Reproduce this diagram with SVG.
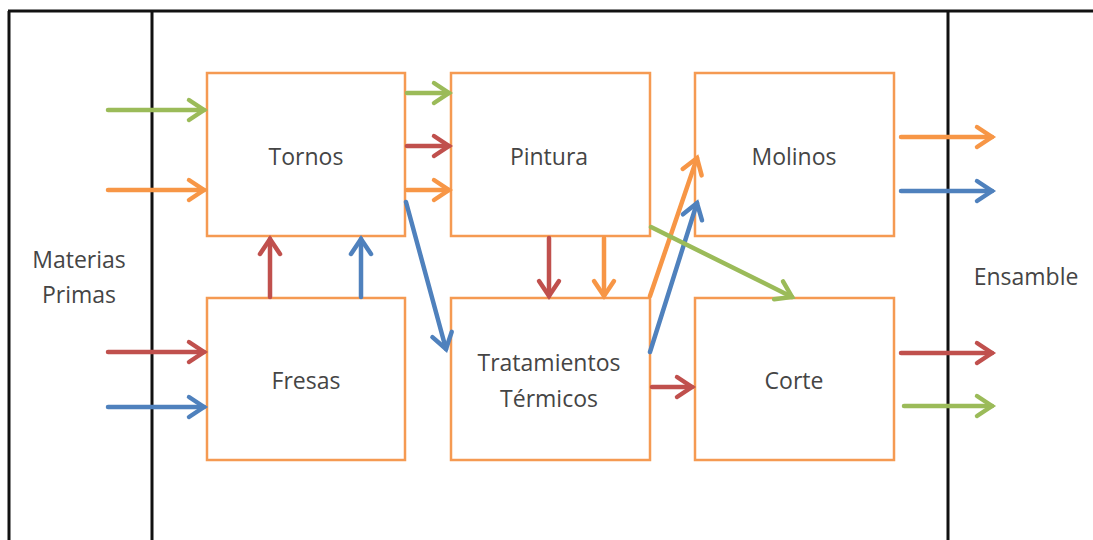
<svg xmlns="http://www.w3.org/2000/svg" width="1093" height="540" viewBox="0 0 1093 540">
<defs>
<style>
.frame{stroke:#111;stroke-width:3;fill:none}
.box{fill:#fff;stroke:#F59A52;stroke-width:2.5}
.lbl{font-family:"Open Sans",Lato,"Liberation Sans",sans-serif;font-size:23px;fill:#454545;text-anchor:middle}
.c{fill:none;stroke-width:4.5;stroke-linecap:round}
.g{stroke:#9BBB59;marker-end:url(#mg)}
.o{stroke:#F79646;marker-end:url(#mo)}
.r{stroke:#C0504D;marker-end:url(#mr)}
.b{stroke:#4F81BD;marker-end:url(#mb)}
</style>
<marker id="mg" markerUnits="userSpaceOnUse" markerWidth="30" markerHeight="30" refX="0" refY="0" viewBox="-20 -15 24 30" orient="auto"><path d="M-15,-10 L0,0 L-15,10" fill="none" stroke="#9BBB59" stroke-width="4.5" stroke-linecap="round"/></marker>
<marker id="mo" markerUnits="userSpaceOnUse" markerWidth="30" markerHeight="30" refX="0" refY="0" viewBox="-20 -15 24 30" orient="auto"><path d="M-15,-10 L0,0 L-15,10" fill="none" stroke="#F79646" stroke-width="4.5" stroke-linecap="round"/></marker>
<marker id="mr" markerUnits="userSpaceOnUse" markerWidth="30" markerHeight="30" refX="0" refY="0" viewBox="-20 -15 24 30" orient="auto"><path d="M-15,-10 L0,0 L-15,10" fill="none" stroke="#C0504D" stroke-width="4.5" stroke-linecap="round"/></marker>
<marker id="mb" markerUnits="userSpaceOnUse" markerWidth="30" markerHeight="30" refX="0" refY="0" viewBox="-20 -15 24 30" orient="auto"><path d="M-15,-10 L0,0 L-15,10" fill="none" stroke="#4F81BD" stroke-width="4.5" stroke-linecap="round"/></marker>
</defs>
<rect width="1093" height="540" fill="#fff"/>
<g id="frame">
<line class="frame" x1="8" y1="11" x2="1093" y2="11"/>
<line class="frame" x1="9" y1="11" x2="9" y2="540"/>
<line class="frame" x1="152" y1="11" x2="152" y2="540"/>
<line class="frame" x1="948" y1="11" x2="948" y2="540"/>
</g>
<g id="materias"><text class="lbl" x="79" y="268">Materias</text><text class="lbl" x="79" y="303">Primas</text></g>
<g id="ensamble"><text class="lbl" x="1026" y="285">Ensamble</text></g>
<g id="tornos"><rect class="box" x="207" y="73" width="198" height="163"/><text class="lbl" x="306" y="165">Tornos</text></g>
<g id="pintura"><rect class="box" x="451" y="73" width="199" height="163"/><text class="lbl" x="549" y="165">Pintura</text></g>
<g id="molinos"><rect class="box" x="695" y="73" width="199" height="163"/><text class="lbl" x="794" y="165">Molinos</text></g>
<g id="fresas"><rect class="box" x="207" y="298" width="198" height="162"/><text class="lbl" x="306" y="389">Fresas</text></g>
<g id="tratamientos"><rect class="box" x="451" y="298" width="199" height="162"/><text class="lbl" x="549" y="371">Tratamientos</text><text class="lbl" x="549" y="407">Térmicos</text></g>
<g id="corte"><rect class="box" x="695" y="298" width="199" height="162"/><text class="lbl" x="794" y="389">Corte</text></g>
<g id="connectors">
<line class="c g" x1="108" y1="110" x2="204" y2="110"/>
<line class="c o" x1="108" y1="190" x2="204" y2="190"/>
<line class="c r" x1="108" y1="352" x2="204" y2="352"/>
<line class="c b" x1="108" y1="407" x2="204" y2="407"/>
<line class="c g" x1="407" y1="93" x2="449" y2="93"/>
<line class="c r" x1="407" y1="146" x2="449" y2="146"/>
<line class="c o" x1="407" y1="190" x2="449" y2="190"/>
<line class="c b" x1="406" y1="202" x2="446" y2="349"/>
<line class="c r" x1="270" y1="297" x2="270" y2="239"/>
<line class="c b" x1="361" y1="297" x2="361" y2="239"/>
<line class="c r" x1="549" y1="238" x2="549" y2="296"/>
<line class="c o" x1="604" y1="238" x2="604" y2="296"/>
<line class="c o" x1="650" y1="296" x2="697" y2="158"/>
<line class="c b" x1="650" y1="352" x2="697" y2="203"/>
<line class="c g" x1="651" y1="227" x2="792" y2="297"/>
<line class="c r" x1="652" y1="387" x2="692" y2="387"/>
<line class="c o" x1="901" y1="137" x2="992" y2="137"/>
<line class="c b" x1="901" y1="191" x2="992" y2="191"/>
<line class="c r" x1="901" y1="353" x2="992" y2="353"/>
<line class="c g" x1="904" y1="406" x2="992" y2="406"/>
</g>
</svg>
